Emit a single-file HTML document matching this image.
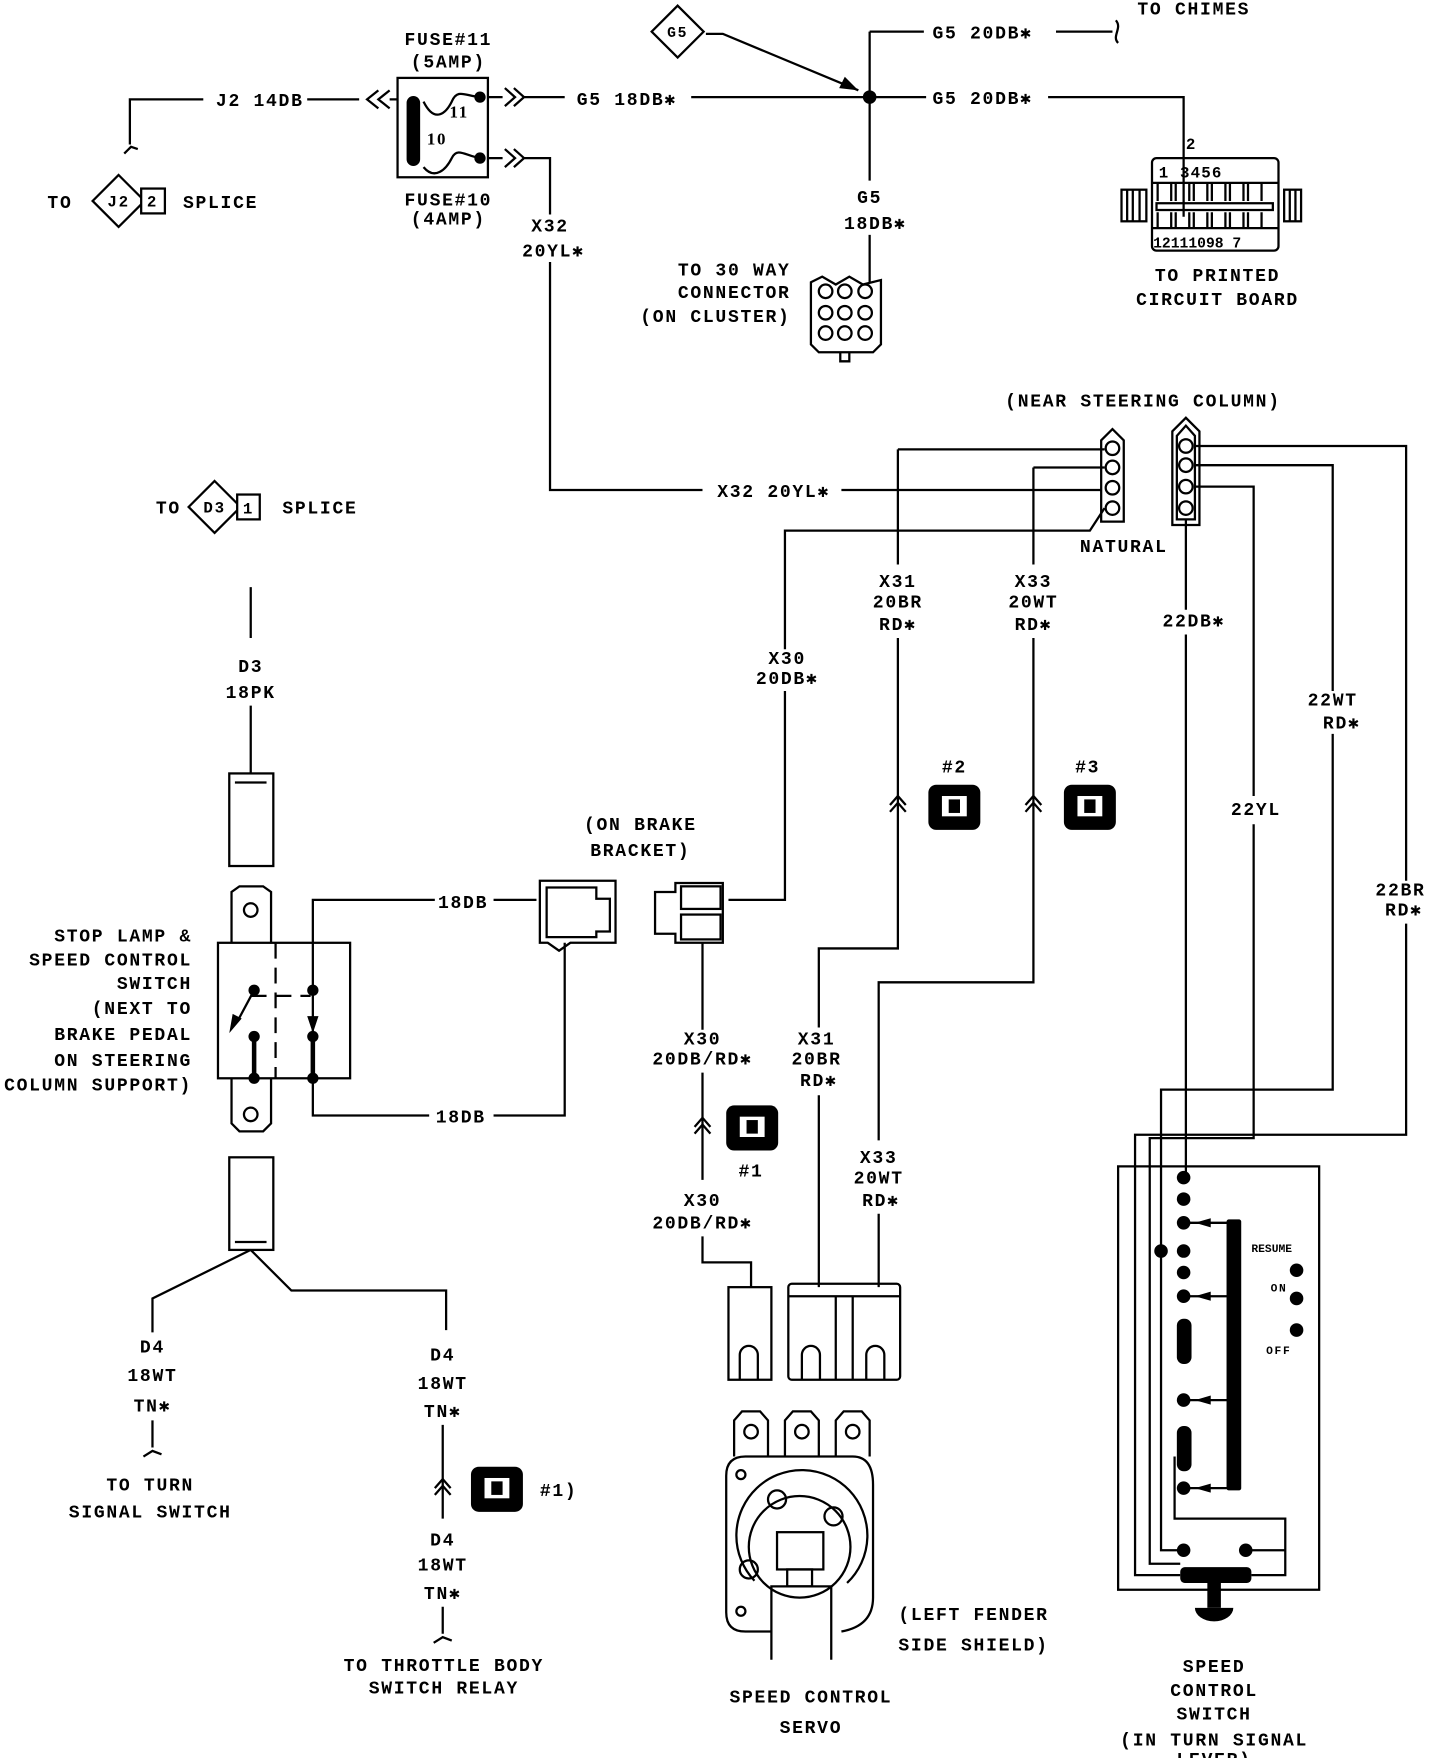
<!DOCTYPE html>
<html><head><meta charset="utf-8"><style>
html,body{margin:0;padding:0;background:#fff}
svg{display:block}
text{font-family:"Liberation Mono",monospace;font-weight:bold;font-size:16px;letter-spacing:1.5px;fill:#000}
.m{text-anchor:middle}.e{text-anchor:end}
</style></head><body>
<svg width="1440" height="1758" viewBox="0 0 1275 1557" preserveAspectRatio="none" xmlns="http://www.w3.org/2000/svg">
<defs>
<g id="chev"><path d="M-7,8 L0,0 L7,8 M-7,14 L0,6 L7,14" fill="none" stroke="#000" stroke-width="2"/></g>
<g id="ico"><rect x="-23" y="-20" width="46" height="40" rx="7" fill="#000"/><rect x="-11" y="-10" width="22" height="18" fill="#fff"/><rect x="-5" y="-7" width="10" height="12" fill="#000"/></g>
</defs>
<g fill="none" stroke="#000" stroke-width="2">
<path d="M180,88 H115 V128 M110,136 L116,130 L122,132"/>
<path d="M272,88 H318 M335,80 L325,88 L335,96 M345,80 L335,88 L345,96 M345,88 H352"/>
<rect x="352" y="69" width="80" height="88"/>
<path d="M375,90 C385,110 395,100 400,90 C405,78 412,85 425,86"/>
<path d="M375,148 C385,160 395,150 400,140 C405,130 412,138 425,140"/>
<path d="M432,86 H445 M447,78 L456,86 L447,94 M455,78 L464,86 L455,94 M464,86 H500"/>
<path d="M432,140 H445 M447,132 L456,140 L447,148 M455,132 L464,140 L455,148 M464,140 H487 V190"/>
<path d="M612,86 H820 M928,86 H1048 V192"/>
<path d="M770,28 V160 M770,28 H818 M935,28 H985 M988,18 C994,25 984,32 990,38"/>
<path d="M625,30 L640,30 L760,80"/>
<path d="M770,208 V250"/>
<path d="M487,232 V434 H622 M745,434 H975"/>
<path d="M975,390 L985,380 L995,390 V462 H975 Z"/>
<path d="M1038,382 L1050,370 L1062,382 V465 H1038 Z M1042,386 L1050,377 L1058,386 V460 H1042 Z"/>
<path d="M795,565 V840 H725 V910 M795,398 V500 M795,398 H978"/>
<path d="M915,414 H978 M915,414 V500 M915,565 V870 H778 V1010 M778,1075 V1140"/>
<path d="M978,450 L965,470 H695 V575 M695,612 V797 H645"/>
<path d="M1058,395 H1245 V780 M1245,818 V1005 H1005 V1395 H1045"/>
<path d="M1058,412 H1180 V612 M1180,650 V965 H1028 V1373 H1048"/>
<path d="M1058,431 H1110 V705 M1110,730 V1008 H1018 V1385 H1045"/>
<path d="M1050,460 V540 M1050,562 V1043"/>
<path d="M725,970 V1140"/>
<path d="M990,1033 H1168 V1408 H990 Z"/>
<path d="M1040,1290 V1345 H1138 V1395 H1108 M1103,1373 H1138"/>
<path d="M1048,1083 H1090 M1048,1148 H1090 M1048,1240 H1090 M1048,1318 H1090"/>
<path d="M222,520 V565 M222,625 V685"/>
<rect x="203" y="685" width="39" height="82"/><path d="M208,693 H236"/>
<rect x="203" y="1025" width="39" height="82"/><path d="M208,1100 H236"/>
<path d="M205,835 V790 L212,785 H233 L240,790 V835"/>
<circle cx="222" cy="806" r="6"/>
<path d="M205,955 V995 L212,1002 H233 L240,995 V955"/>
<circle cx="222" cy="987" r="6"/>
<rect x="193" y="835" width="117" height="120"/>
<path d="M244,835 V955" stroke-dasharray="14,8"/>
<path d="M222,882 H275" stroke-dasharray="14,8"/>
<path d="M225,877 L210,905 M277,877 V915 M225,918 V955 M277,918 V955"/>
<path d="M277,877 V797 H385 M437,797 H475 M277,955 V988 H380 M437,988 H500 V835"/>
<path d="M478,780 H545 V835 H505 L495,842 L485,835 H478 Z" />
<path d="M484,786 H528 V796 H540 V825 H528 V830 H484 Z"/>
<path d="M580,790 H598 V782 H640 V835 H598 V827 H580 Z"/>
<rect x="603" y="785" width="35" height="20"/><rect x="603" y="810" width="35" height="22"/>
<path d="M622,835 V912 M622,950 V1045 M622,1095 V1118 H665 V1140"/>
<path d="M222,1107 L135,1150 V1180 M222,1107 L258,1143 H395 V1178"/>
<path d="M135,1258 V1282 M127,1290 L135,1285 L143,1288"/>
<path d="M392,1262 V1345 M392,1423 V1447 M384,1455 L392,1450 L400,1453"/>
<rect x="645" y="1140" width="38" height="82"/>
<path d="M655,1222 V1200 A8,8 0 0 1 671,1200 V1222"/>
<rect x="698" y="1137" width="99" height="85" rx="3"/>
<path d="M698,1148 H797 M740,1148 V1222 M755,1148 V1222"/>
<path d="M710,1222 V1200 A8,8 0 0 1 726,1200 V1222 M767,1222 V1200 A8,8 0 0 1 783,1200 V1222"/>
<path d="M650,1290 V1258 L657,1250 H673 L680,1258 V1290 M695,1290 V1258 L702,1250 H718 L725,1258 V1290 M740,1290 V1258 L747,1250 H763 L770,1258 V1290"/>
<circle cx="665" cy="1268" r="6"/><circle cx="710" cy="1268" r="6"/><circle cx="755" cy="1268" r="6"/>
<path d="M683,1445 H660 Q643,1445 643,1428 V1307 Q643,1290 660,1290 H755 Q773,1290 773,1315 V1415 Q773,1440 745,1445"/>
<circle cx="656" cy="1306" r="4"/><circle cx="656" cy="1427" r="4"/>
<path d="M668,1400 A58,58 0 1 1 750,1402"/>
<circle cx="708" cy="1370" r="45"/>
<circle cx="688" cy="1328" r="8"/><circle cx="738" cy="1343" r="8"/><circle cx="663" cy="1390" r="8"/>
<rect x="688" y="1357" width="41" height="33"/>
<rect x="697" y="1390" width="22" height="15"/>
<path d="M683,1470 V1405 H736 V1470"/>
<path d="M718,250 L728,245 L740,252 L752,245 L764,252 L780,248 V305 L773,312 H725 L718,305 Z"/>
<path d="M744,312 V320 H752 V312"/>
<circle cx="731" cy="258" r="6"/><circle cx="748" cy="258" r="6"/><circle cx="766" cy="258" r="6"/>
<circle cx="731" cy="277" r="6"/><circle cx="748" cy="277" r="6"/><circle cx="766" cy="277" r="6"/>
<circle cx="731" cy="295" r="6"/><circle cx="748" cy="295" r="6"/><circle cx="766" cy="295" r="6"/>
<rect x="1020" y="140" width="112" height="82" rx="4"/>
<rect x="993" y="168" width="22" height="28"/><rect x="1137" y="168" width="15" height="28"/>
<path d="M998,168 V196 M1003,168 V196 M1009,168 V196 M1142,168 V196 M1147,168 V196"/>
<path d="M1020,162 H1132 M1020,202 H1132"/>
<path d="M1025,162 V178 M1037,162 V178 M1041,162 V178 M1053,162 V178 M1057,162 V178 M1069,162 V178 M1073,162 V178 M1085,162 V178 M1089,162 V178 M1101,162 V178 M1105,162 V178 M1117,162 V178"/>
<path d="M1025,202 V188 M1037,202 V188 M1041,202 V188 M1053,202 V188 M1057,202 V188 M1069,202 V188 M1073,202 V188 M1085,202 V188 M1089,202 V188 M1101,202 V188 M1105,202 V188 M1117,202 V188"/>
<rect x="1024" y="180" width="103" height="6"/>
</g>
<g fill="#000">
<circle cx="770" cy="86" r="6"/>
<path d="M760,80 L743,78 L748,68 Z"/>
<rect x="360" y="85" width="12" height="62" rx="6"/>
<circle cx="425" cy="86" r="5"/><circle cx="425" cy="140" r="5"/>
<circle cx="225" cy="877" r="5"/><circle cx="277" cy="877" r="5"/>
<circle cx="225" cy="918" r="5"/><circle cx="277" cy="918" r="5"/>
<circle cx="225" cy="955" r="5"/><circle cx="277" cy="955" r="5"/>
<rect x="223" y="918" width="4" height="37"/><rect x="275" y="918" width="4" height="37"/>
<path d="M203,915 L206,898 L214,902 Z M277,915 L272,900 L282,900 Z"/>
<circle cx="1048" cy="1043" r="6"/><circle cx="1048" cy="1062" r="6"/>
<circle cx="1048" cy="1083" r="6"/><circle cx="1048" cy="1108" r="6"/><circle cx="1028" cy="1108" r="6"/>
<circle cx="1048" cy="1127" r="6"/><circle cx="1048" cy="1148" r="6"/>
<rect x="1042" y="1168" width="13" height="40" rx="6"/>
<circle cx="1048" cy="1240" r="6"/>
<rect x="1042" y="1263" width="13" height="40" rx="6"/>
<circle cx="1048" cy="1318" r="6"/>
<circle cx="1048" cy="1373" r="6"/><circle cx="1103" cy="1373" r="6"/>
<rect x="1086" y="1080" width="13" height="240" rx="2"/>
<rect x="1045" y="1388" width="63" height="14" rx="4"/>
<rect x="1069" y="1400" width="12" height="24"/>
<path d="M1058,1424 H1092 A17,12 0 0 1 1058,1424 Z"/>
<circle cx="1148" cy="1125" r="6"/><circle cx="1148" cy="1150" r="6"/><circle cx="1148" cy="1178" r="6"/>
<path d="M1058,1083 L1072,1079 V1087 Z M1058,1148 L1072,1144 V1152 Z M1058,1240 L1072,1236 V1244 Z M1058,1318 L1072,1314 V1322 Z"/>
</g>
<g fill="#fff" stroke="#000" stroke-width="2">
<circle cx="985" cy="397" r="6"/><circle cx="985" cy="414" r="6"/><circle cx="985" cy="432" r="6"/><circle cx="985" cy="450" r="6"/>
<circle cx="1050" cy="395" r="6"/><circle cx="1050" cy="412" r="6"/><circle cx="1050" cy="431" r="6"/><circle cx="1050" cy="450" r="6"/>
<path d="M600,5 L623,28 L600,51 L577,28 Z"/>
<path d="M105,155 L128,178 L105,201 L82,178 Z"/><rect x="125" y="167" width="21" height="22"/>
<path d="M190,426 L213,449 L190,472 L167,449 Z"/><rect x="210" y="438" width="20" height="22"/>
</g>
<use href="#chev" x="795" y="705"/><use href="#chev" x="915" y="705"/>
<use href="#chev" x="622" y="990"/><use href="#chev" x="392" y="1310"/>
<use href="#ico" x="845" y="715"/><use href="#ico" x="965" y="715"/>
<use href="#ico" x="666" y="999"/><use href="#ico" x="440" y="1319"/>
<text class="m" x="230" y="94">J2 14DB</text>
<text class="m" x="397" y="40">FUSE#11</text><text class="m" x="397" y="60">(5AMP)</text>
<text class="m" x="397" y="182">FUSE#10</text><text class="m" x="397" y="199">(4AMP)</text>
<text style="font-family:'Liberation Serif',serif;font-size:15px" x="398" y="104">11</text>
<text style="font-family:'Liberation Serif',serif;font-size:15px" x="378" y="128">10</text>
<text class="m" x="555" y="93">G5 18DB✱</text>
<text class="m" x="870" y="92">G5 20DB✱</text>
<text class="m" x="870" y="34">G5 20DB✱</text>
<text class="m" x="1057" y="13">TO CHIMES</text>
<text class="m" x="600" y="33" style="font-size:13px">G5</text>
<text class="m" x="770" y="180">G5</text><text class="m" x="775" y="203">18DB✱</text>
<text class="e" x="700" y="244">TO 30 WAY</text><text class="e" x="700" y="264">CONNECTOR</text><text class="e" x="700" y="285">(ON CLUSTER)</text>
<text x="1050" y="132" style="font-size:14px">2</text>
<text x="1026" y="157" style="font-size:14px;letter-spacing:1px">1  3456</text>
<text x="1021" y="219" style="font-size:13px;letter-spacing:0">12111098 7</text>
<text class="m" x="1078" y="249">TO PRINTED</text><text class="m" x="1078" y="270">CIRCUIT BOARD</text>
<text x="42" y="184">TO</text><text x="105" y="183" class="m" style="font-size:14px">J2</text><text x="130" y="183" style="font-size:14px">2</text><text x="162" y="184">SPLICE</text>
<text class="m" x="487" y="205">X32</text><text class="m" x="490" y="227">20YL✱</text>
<text class="m" x="685" y="440">X32 20YL✱</text>
<text class="m" x="1012" y="360">(NEAR STEERING COLUMN)</text>
<text class="m" x="995" y="489">NATURAL</text>
<text x="138" y="455">TO</text><text class="m" x="190" y="454" style="font-size:14px">D3</text><text x="215" y="455" style="font-size:14px">1</text><text x="250" y="455">SPLICE</text>
<text class="m" x="222" y="595">D3</text><text class="m" x="222" y="618">18PK</text>
<text class="m" x="795" y="520">X31</text><text class="m" x="795" y="538">20BR</text><text class="m" x="795" y="558">RD✱</text>
<text class="m" x="915" y="520">X33</text><text class="m" x="915" y="538">20WT</text><text class="m" x="915" y="558">RD✱</text>
<text class="m" x="697" y="588">X30</text><text class="m" x="697" y="606">20DB✱</text>
<text class="m" x="1057" y="555">22DB✱</text>
<text class="m" x="1180" y="625">22WT</text><text class="m" x="1188" y="645">RD✱</text>
<text class="m" x="1112" y="722">22YL</text>
<text class="m" x="1240" y="793">22BR</text><text class="m" x="1243" y="811">RD✱</text>
<text class="m" x="845" y="684">#2</text><text class="m" x="963" y="684">#3</text>
<text class="m" x="567" y="735">(ON BRAKE</text><text class="m" x="567" y="758">BRACKET)</text>
<text class="m" x="410" y="804">18DB</text><text class="m" x="408" y="994">18DB</text>
<text class="e" x="170" y="834">STOP LAMP &amp;</text><text class="e" x="170" y="855">SPEED CONTROL</text><text class="e" x="170" y="876">SWITCH</text><text class="e" x="170" y="898">(NEXT TO</text><text class="e" x="170" y="921">BRAKE PEDAL</text><text class="e" x="170" y="944">ON STEERING</text><text class="e" x="170" y="966">COLUMN SUPPORT)</text>
<text class="m" x="622" y="925">X30</text><text class="m" x="622" y="943">20DB/RD✱</text>
<text class="m" x="665" y="1042">#1</text>
<text class="m" x="622" y="1068">X30</text><text class="m" x="622" y="1088">20DB/RD✱</text>
<text class="m" x="723" y="925">X31</text><text class="m" x="723" y="943">20BR</text><text class="m" x="725" y="962">RD✱</text>
<text class="m" x="778" y="1030">X33</text><text class="m" x="778" y="1048">20WT</text><text class="m" x="780" y="1068">RD✱</text>
<text class="m" x="135" y="1198">D4</text><text class="m" x="135" y="1223">18WT</text><text class="m" x="135" y="1250">TN✱</text>
<text class="m" x="133" y="1320">TO TURN</text><text class="m" x="133" y="1344">SIGNAL SWITCH</text>
<text class="m" x="392" y="1205">D4</text><text class="m" x="392" y="1230">18WT</text><text class="m" x="392" y="1255">TN✱</text>
<text x="478" y="1325">#1)</text>
<text class="m" x="392" y="1369">D4</text><text class="m" x="392" y="1391">18WT</text><text class="m" x="392" y="1416">TN✱</text>
<text class="m" x="393" y="1480">TO THROTTLE BODY</text><text class="m" x="393" y="1500">SWITCH RELAY</text>
<text class="m" x="862" y="1435">(LEFT FENDER</text><text class="m" x="862" y="1462">SIDE SHIELD)</text>
<text class="m" x="718" y="1508">SPEED CONTROL</text><text class="m" x="718" y="1535">SERVO</text>
<text x="1108" y="1109" style="font-size:10px;letter-spacing:0">RESUME</text>
<text x="1125" y="1144" style="font-size:10px">ON</text>
<text x="1121" y="1199" style="font-size:10px">OFF</text>
<text class="m" x="1075" y="1481">SPEED</text><text class="m" x="1075" y="1502">CONTROL</text><text class="m" x="1075" y="1523">SWITCH</text><text class="m" x="1075" y="1546">(IN TURN SIGNAL</text><text class="m" x="1075" y="1563">LEVER)</text>
</svg>
</body></html>
